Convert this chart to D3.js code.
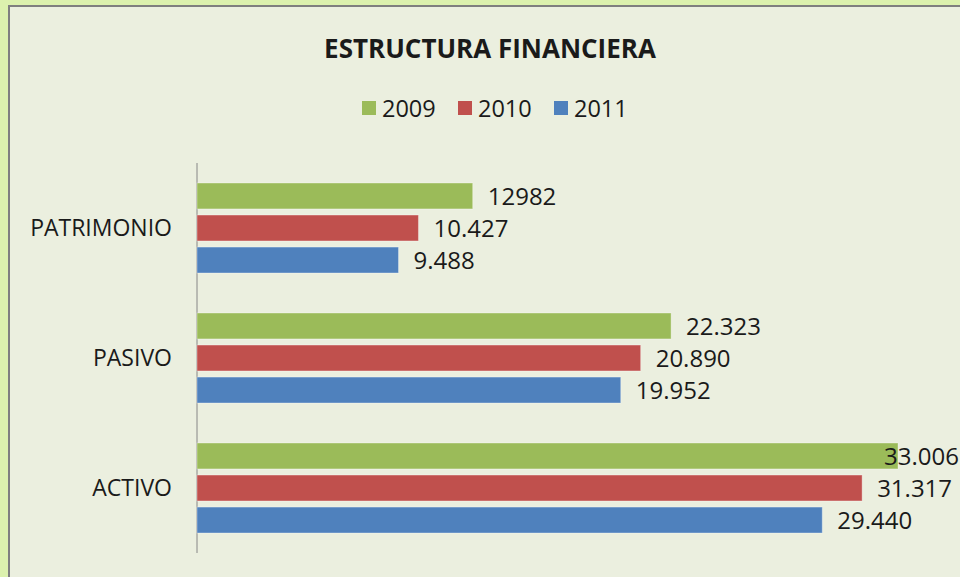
<!DOCTYPE html>
<html>
<head>
<meta charset="utf-8">
<script src="https://cdn.jsdelivr.net/npm/d3@7"></script>
<style>
  body { margin: 0; background: #dcf1ae; }
  text { font-family: "Open Sans", sans-serif; fill: #1a1a1a; }
</style>
</head>
<body>
<div class="chart"></div>
<script>
var categories = ["PATRIMONIO", "PASIVO", "ACTIVO"];
var years = ["2009", "2010", "2011"];
var values2009 = [12982, 22323, 33006];
var values2010 = [10427, 20890, 31317];
var values2011 = [9488, 19952, 29440];
var labels2009 = ["12982", "22.323", "33.006"];
var labels2010 = ["10.427", "20.890", "31.317"];
var labels2011 = ["9.488", "19.952", "29.440"];
var colors = ["#9bbb59", "#c0504d", "#4f81bd"];

var width = 960;
var height = 577;

var svg = d3.select(".chart").append("svg")
    .attr("width", width)
    .attr("height", height);

// chart frame
svg.append("rect")
    .attr("x", 9).attr("y", 6)
    .attr("width", width).attr("height", height)
    .attr("fill", "#ebefdf")
    .attr("stroke", "#7f7f7f")
    .attr("stroke-width", 2);

svg.append("text")
    .attr("x", 490).attr("y", 58)
    .attr("text-anchor", "middle")
    .style("font-size", "26px")
    .style("font-weight", "bold")
    .text("ESTRUCTURA FINANCIERA");

var series = years.map(function(y, i) {
    return {
        year: y,
        color: colors[i],
        values: [values2009, values2010, values2011][i],
        labels: [labels2009, labels2010, labels2011][i]
    };
});

// legend
var legend = svg.append("g").attr("transform", "translate(362,101)");
var item = legend.selectAll("g")
    .data(series)
    .enter().append("g")
    .attr("transform", function(d, i) { return "translate(" + i * 96 + ",0)"; });
item.append("rect")
    .attr("width", 14).attr("height", 14)
    .attr("fill", function(d) { return d.color; });
item.append("text")
    .attr("x", 20).attr("y", 16)
    .style("font-size", "23.5px")
    .text(function(d) { return d.year; });

var x = d3.scaleLinear()
    .domain([0, 33006])
    .range([197, 898]);

var y0 = d3.scaleBand()
    .domain(categories)
    .range([163, 553])
    .paddingInner(0.3077)
    .paddingOuter(0.1538);

var y1 = d3.scaleBand()
    .domain(years)
    .range([0, y0.bandwidth()])
    .paddingInner(0.19);

// category axis
svg.append("line")
    .attr("x1", 197).attr("x2", 197)
    .attr("y1", 163).attr("y2", 553)
    .attr("stroke", "#868686")
    .attr("stroke-width", 1);

svg.selectAll(".cat")
    .data(categories)
    .enter().append("text")
    .attr("class", "cat")
    .attr("x", 172)
    .attr("y", function(d) { return y0(d) + y0.bandwidth() / 2; })
    .attr("dy", "0.36em")
    .attr("text-anchor", "end")
    .style("font-size", "23px")
    .text(function(d) { return d; });

var groups = svg.selectAll(".series")
    .data(series)
    .enter().append("g")
    .attr("class", "series");

groups.selectAll("rect")
    .data(function(s) {
        return s.values.map(function(v, i) {
            return { cat: categories[i], year: s.year, value: v, color: s.color, label: s.labels[i] };
        });
    })
    .enter().append("rect")
    .attr("x", x(0))
    .attr("y", function(d) { return y0(d.cat) + y1(d.year); })
    .attr("width", function(d) { return x(d.value) - x(0); })
    .attr("height", y1.bandwidth())
    .attr("fill", function(d) { return d.color; })
    .attr("stroke", "rgba(255,255,255,0.35)")
    .attr("stroke-width", 1);

groups.selectAll("text")
    .data(function(s) {
        return s.values.map(function(v, i) {
            return { cat: categories[i], year: s.year, value: v, label: s.labels[i] };
        });
    })
    .enter().append("text")
    .attr("y", function(d) { return y0(d.cat) + y1(d.year) + y1.bandwidth() / 2; })
    .attr("dy", "0.36em")
    .style("font-size", "24px")
    .text(function(d) { return d.label; })
    .attr("x", function(d) {
        var w = this.getComputedTextLength();
        return Math.min(x(d.value) + 15, width - 1 - w);
    });
</script>
</body>
</html>
